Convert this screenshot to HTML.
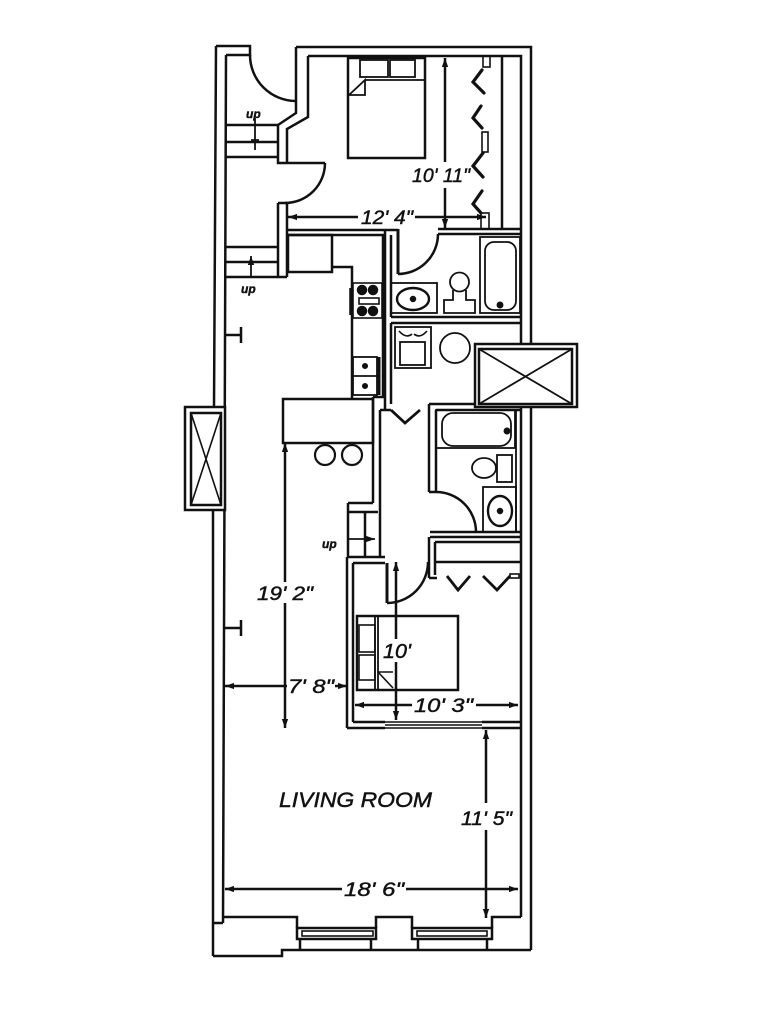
<!DOCTYPE html>
<html><head><meta charset="utf-8"><style>
html,body{margin:0;padding:0;background:#fff;}
svg{display:block}
text{font-family:"Liberation Sans",sans-serif;font-style:italic;fill:#111;stroke:#111;stroke-width:0.45}
</style></head><body>
<svg width="776" height="1024" viewBox="0 0 776 1024" xmlns="http://www.w3.org/2000/svg">
<defs>
<marker id="ah" viewBox="0 0 10 10" refX="10" refY="5" markerWidth="10" markerHeight="9" orient="auto-start-reverse" markerUnits="userSpaceOnUse">
<path d="M0,1.5 L10,5 L0,8.5 z" fill="#111" stroke="none"/>
</marker>
</defs>
<rect width="776" height="1024" fill="#fff"/>
<g fill="none" stroke="#111" stroke-width="2.5" stroke-linejoin="miter">

<!-- exterior walls -->
<path d="M216 46 L214 407 M213 510 L213 956"/>
<path d="M226 55 L223 923 M213 923 L223 923"/>
<path d="M216 46 L250 46 L250 55 L226 55"/>
<path d="M296 47 L531 47 L531 950"/>
<path d="M308 56 L521 56 L521 917"/>

<!-- bedroom 1 left wall -->
<path d="M296 47 L296 113 L278 125 L278 163 L287 163"/>
<path d="M308 56 L308 117 L287 129 L287 163"/>
<path d="M250 55 A46 46 0 0 0 296 101"/>
<path d="M287 163 L325 163"/>
<path d="M325 163 A40 40 0 0 1 285 203"/>
<path d="M278 203 L287 203 M278 203 L278 277 M287 203 L287 277 M226 277 L287 277"/>

<!-- stairs 1 -->
<path d="M226 125 L278 125 M226 142 L278 142 M226 157 L278 157"/>
<path d="M255 118 L255 150 M251 140 L259 140" stroke-width="1.8"/>
<!-- stairs 2 -->
<path d="M226 247 L278 247 M226 262 L278 262"/>
<path d="M251 277 L251 256" stroke-width="1.8" marker-end="url(#ah)"/>

<!-- wall bedroom / kitchen -->
<path d="M287 230 L398 230 M287 235 L385 235"/>
<path d="M438 229 L521 229 M438 234 L521 234"/>
<path d="M398 229 L398 274" stroke-width="3"/>
<path d="M438 234 A40 40 0 0 1 398 274"/>

<!-- closet bedroom 1 -->
<path d="M502 56 L502 229"/>
<g stroke-width="3.2" stroke-linecap="round">
<polyline points="482,70 473,82 484,93"/>
<polyline points="481,106 473,118 482,128"/>
<polyline points="483,153 473,166 483,177"/>
<polyline points="482,191 473,204 481,213"/>
</g>
<rect x="483" y="56" width="7" height="11" stroke-width="1.6"/>
<rect x="482" y="132" width="6" height="20" stroke-width="1.6"/>
<rect x="481" y="213" width="8" height="16" stroke-width="1.6"/>

<!-- bed 1 -->
<rect x="348" y="58" width="77" height="100"/>
<rect x="360" y="60" width="28" height="17" stroke-width="1.8"/>
<rect x="390" y="60" width="25" height="17" stroke-width="1.8"/>
<path d="M349 95 L365 80 L365 95 Z M365 80 L425 80" stroke-width="1.8"/>

<!-- dims bedroom 1 -->
<path d="M445 58 L445 162" marker-start="url(#ah)"/>
<path d="M445 188 L445 228" marker-end="url(#ah)"/>
<path d="M288 217 L358 217" marker-start="url(#ah)"/>
<path d="M415 217 L486 217" marker-end="url(#ah)"/>

<!-- bath 1 -->
<path d="M385 230 L385 410 M391 235 L391 317 M391 323 L391 404"/>
<path d="M391 317 L521 317 M391 323 L521 323"/>
<rect x="480" y="237" width="40" height="76" stroke-width="1.8"/>
<rect x="485" y="242" width="31" height="68" rx="9" stroke-width="1.8"/>
<circle cx="500" cy="305" r="2.2" fill="#111"/>
<circle cx="459.5" cy="282" r="9.5" stroke-width="1.8"/>
<path d="M453 290 L453 300 L444 300 L444 313 L475 313 L475 300 L466 300 L466 290" stroke-width="1.8"/>
<rect x="391" y="283" width="46" height="30" stroke-width="1.8"/>
<ellipse cx="413" cy="299" rx="16" ry="11" stroke-width="2.4"/>
<circle cx="413" cy="299" r="2" fill="#111"/>

<!-- kitchen -->
<rect x="288" y="235" width="44" height="37"/>
<path d="M332 267 L352 267 L352 399 M383 235 L383 397 L373 397"/>
<rect x="283" y="399" width="90" height="44"/>
<rect x="353" y="283" width="29" height="35" stroke-width="1.6"/>
<circle cx="362" cy="290" r="4" fill="#111"/>
<circle cx="373" cy="290" r="4" fill="#111"/>
<circle cx="362" cy="311" r="4" fill="#111"/>
<circle cx="373" cy="311" r="4" fill="#111"/>
<rect x="359" y="298" width="20" height="6" stroke-width="1.6"/>
<path d="M351 288 L351 315" stroke-width="3.5"/>
<rect x="353" y="357" width="24" height="38" stroke-width="1.8"/>
<path d="M353 376 L377 376" stroke-width="1.8"/>
<circle cx="365" cy="366" r="1.8" fill="#111"/>
<circle cx="365" cy="386" r="1.8" fill="#111"/>
<path d="M379 357 L379 395" stroke-width="3"/>
<circle cx="325" cy="455" r="10" stroke-width="2.2"/>
<circle cx="352" cy="455" r="10" stroke-width="2.2"/>

<!-- hallway partition -->
<path d="M373 397 L373 503 M380 410 L380 557 M380 410 L391 410"/>
<path d="M391 410 L405 423 L420 410" stroke-width="2.8"/>

<!-- laundry -->
<rect x="395" y="327" width="36" height="41" stroke-width="1.8"/>
<rect x="400" y="342" width="25" height="23" stroke-width="1.8"/>
<path d="M399 331 Q406 339 412 334 M414 334 Q420 339 427 331" stroke-width="1.6"/>
<circle cx="455" cy="348" r="15" stroke-width="1.8"/>

<!-- bath 2 -->
<path d="M429 404 L521 404 M436 410 L521 410 M429 404 L429 492 M436 410 L436 492 M429 492 L436 492"/>
<rect x="436" y="410" width="79" height="38" stroke-width="1.8"/>
<rect x="442" y="413" width="69" height="33" rx="11" stroke-width="1.8"/>
<circle cx="507" cy="431" r="2.2" fill="#111"/>
<path d="M516 410 L516 532" stroke-width="1.8"/>
<rect x="497" y="455" width="15" height="27" stroke-width="1.8"/>
<ellipse cx="484" cy="468" rx="12" ry="10" stroke-width="1.8"/>
<rect x="483" y="487" width="33" height="45" stroke-width="1.8"/>
<ellipse cx="500" cy="511" rx="12" ry="15" stroke-width="2.4"/>
<circle cx="500" cy="511" r="2" fill="#111"/>
<path d="M436 492 A40 40 0 0 1 476 532"/>
<path d="M430 532 L521 532 M430 537 L521 537"/>

<!-- closet bedroom 2 -->
<path d="M429 537 L429 578 M435 542 L521 542 M435 562 L521 562 M435 542 L435 575 M429 578 L437 578"/>
<path d="M447 576 L458 590 L470 576 M483 576 L497 590 L510 576" stroke-width="2.8"/>
<rect x="510" y="574" width="9" height="4" stroke-width="1.6"/>

<!-- stairs 3 -->
<path d="M348 503 L373 503 M348 503 L348 557 M348 512 L378 512 M365 512 L365 557"/>
<path d="M349 539 L375 539" stroke-width="1.8" marker-end="url(#ah)"/>

<!-- bedroom 2 walls -->
<path d="M347 557 L385 557 M353 563 L385 563 M347 557 L347 728 M353 563 L353 722"/>
<path d="M353 722 L385 722 M347 728 L385 728"/>
<path d="M385 722 L482 722 M385 725 L482 725 M385 728 L482 728" stroke-width="1.6"/>
<path d="M482 722 L521 722 M482 728 L521 728"/>
<path d="M387 563 L387 603" stroke-width="3"/>
<path d="M387 603 A41 41 0 0 0 428 562"/>

<!-- bed 2 -->
<rect x="357" y="616" width="101" height="74"/>
<path d="M375 616 L375 690 M378 616 L378 690" stroke-width="1.8"/>
<rect x="359" y="625" width="16" height="27" stroke-width="1.6"/>
<rect x="359" y="655" width="16" height="25" stroke-width="1.6"/>
<path d="M378 672 L393 672 M378 672 L393 688" stroke-width="1.6"/>

<!-- dims bedroom 2 -->
<path d="M396 562 L396 639" marker-start="url(#ah)"/>
<path d="M396 662 L396 720" marker-end="url(#ah)"/>
<path d="M355 705 L412 705" marker-start="url(#ah)"/>
<path d="M476 705 L518 705" marker-end="url(#ah)"/>

<!-- living dims -->
<path d="M285 443 L285 582" marker-start="url(#ah)"/>
<path d="M285 603 L285 728" marker-end="url(#ah)"/>
<path d="M225 686 L287 686" marker-start="url(#ah)"/>
<path d="M335 686 L347 686" marker-end="url(#ah)"/>
<path d="M486 730 L486 803" marker-start="url(#ah)"/>
<path d="M486 830 L486 918" marker-end="url(#ah)"/>
<path d="M225 889 L342 889" marker-start="url(#ah)"/>
<path d="M406 889 L518 889" marker-end="url(#ah)"/>

<!-- ticks -->
<path d="M225 335 L241 335 M241 327 L241 343 M225 628 L241 628 M241 620 L241 636"/>

<!-- bottom wall -->
<path d="M223 917 L297 917 L297 928 M376 928 L376 917 L412 917 L412 928 M492 928 L492 917 L521 917"/>
<rect x="297" y="928" width="79" height="11"/>
<rect x="302" y="931" width="71" height="5" stroke-width="1.6"/>
<rect x="412" y="928" width="80" height="11"/>
<rect x="417" y="931" width="70" height="5" stroke-width="1.6"/>
<path d="M300 939 L300 950 M371 939 L371 950 M418 939 L418 950 M487 939 L487 950"/>
<path d="M213 956 L282 956 L282 950 L531 950"/>

<!-- left window box -->
<rect x="185" y="407" width="40" height="103" fill="#fff"/>
<rect x="191" y="413" width="30" height="92"/>
<path d="M191 413 L221 505 M221 413 L191 505" stroke-width="1.6"/>

<!-- skylight -->
<rect x="475" y="344" width="102" height="63" fill="#fff"/>
<rect x="479" y="349" width="93" height="55"/>
<path d="M479 349 L572 404 M572 349 L479 404" stroke-width="1.8"/>
</g>

<!-- labels -->
<text x="412" y="182" font-size="19" textLength="58" lengthAdjust="spacingAndGlyphs">10' 11"</text>
<text x="361" y="224" font-size="19" textLength="52" lengthAdjust="spacingAndGlyphs">12' 4"</text>
<text x="246" y="118" font-size="12" font-weight="bold">up</text>
<text x="241" y="293" font-size="12" font-weight="bold">up</text>
<text x="322" y="548" font-size="12" font-weight="bold">up</text>
<text x="257" y="600" font-size="19" textLength="56" lengthAdjust="spacingAndGlyphs">19' 2"</text>
<text x="288" y="693" font-size="19" textLength="46" lengthAdjust="spacingAndGlyphs">7' 8"</text>
<text x="383" y="658" font-size="20" textLength="28" lengthAdjust="spacingAndGlyphs">10'</text>
<text x="414" y="712" font-size="19" textLength="59" lengthAdjust="spacingAndGlyphs">10' 3"</text>
<text x="279" y="807" font-size="21" textLength="153" lengthAdjust="spacingAndGlyphs">LIVING ROOM</text>
<text x="461" y="825" font-size="19" textLength="51" lengthAdjust="spacingAndGlyphs">11' 5"</text>
<text x="344" y="896" font-size="19" textLength="60" lengthAdjust="spacingAndGlyphs">18' 6"</text>
</svg>
</body></html>
